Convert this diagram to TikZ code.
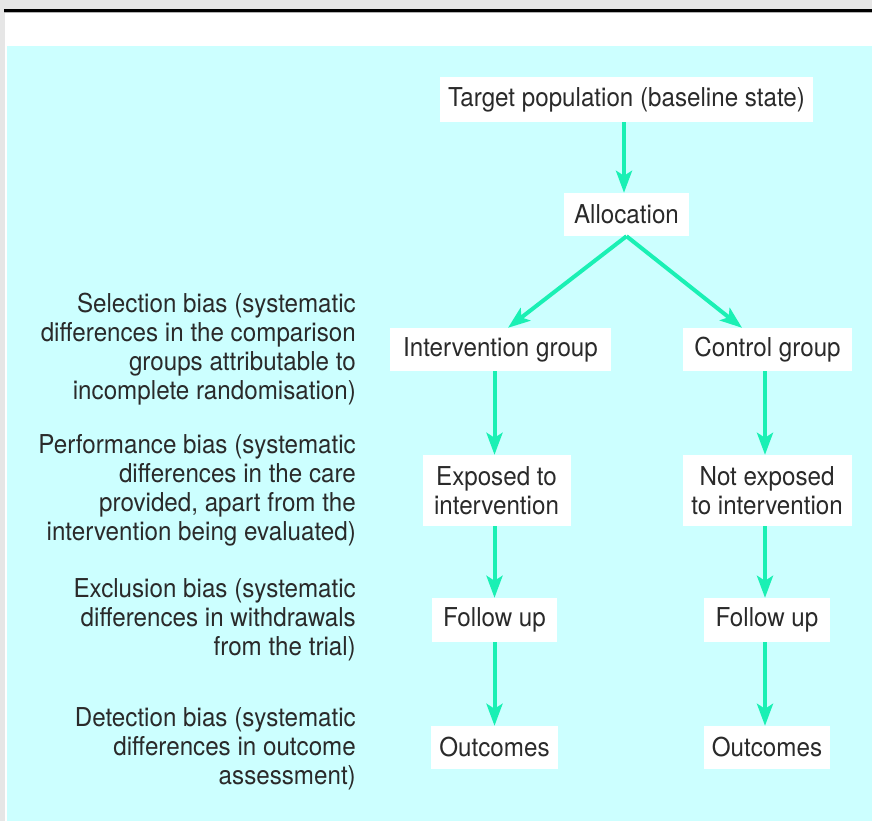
\documentclass[tikz,border=0pt]{standalone}
\usepackage{fontspec}
\setmainfont{TeX Gyre Heros}[FakeStretch=0.93]
\usetikzlibrary{arrows.meta,calc}
\definecolor{bgcyan}{HTML}{CCFFFF}
\definecolor{arrowgreen}{HTML}{1AF0B4}
\definecolor{pagegray}{HTML}{E6E6E6}
\definecolor{txt}{HTML}{2A2A2A}
\tikzset{
  box/.style={fill=white, text=txt, align=center, inner xsep=8pt, inner ysep=4pt,
    font=\fontsize{26}{29}\selectfont},
  note/.style={text=txt, align=right, anchor=east, inner sep=0pt,
    font=\fontsize{26}{29}\selectfont},
  flow/.style={draw=arrowgreen, line width=4pt,
    -{Stealth[length=22pt, width=16pt, inset=5pt]}}
}
\begin{document}
\begin{tikzpicture}[x=1pt,y=-1pt]
\useasboundingbox (0,0) rectangle (872,821);
% page background
\fill[pagegray] (0,0) rectangle (872,821);
\fill[black] (4,9) rectangle (872,12);
\fill[gray!60] (4,12) rectangle (872,13);
\fill[white] (5,13) rectangle (872,821);
\fill[bgcyan] (7,46) rectangle (872,821);

% flow nodes
\node[box, minimum width=373pt, minimum height=45pt] (tp) at (626.5,99.5) {Target population (baseline state)};
\node[box, minimum width=125pt, minimum height=43pt] (al) at (626.5,214.5) {Allocation};
\node[box, minimum width=221pt, minimum height=43pt] (ig) at (500.5,349.5) {Intervention group};
\node[box, minimum width=169pt, minimum height=43pt] (cg) at (767.5,349.5) {Control group};
\node[box, minimum width=148pt, minimum height=71pt] (ex) at (496.5,490.5) {Exposed to\\intervention};
\node[box, minimum width=169pt, minimum height=71pt] (nx) at (767,490.5) {Not exposed\\to intervention};
\node[box, minimum width=125pt, minimum height=44pt] (fl) at (494.5,620) {Follow up};
\node[box, minimum width=126pt, minimum height=44pt] (fr) at (767,620) {Follow up};
\node[box, minimum width=125pt, minimum height=43pt] (ol) at (494.5,747.5) {Outcomes};
\node[box, minimum width=126pt, minimum height=43pt] (or) at (767,747.5) {Outcomes};

% bias notes
\node[note] (sb) at (356,349) {Selection bias (systematic\\differences in the comparison\\groups attributable to\\incomplete randomisation)};
\node[note] (pb) at (356,490.5) {Performance bias (systematic\\differences in the care\\provided, apart from the\\intervention being evaluated)};
\node[note] (eb) at (356,620) {Exclusion bias (systematic\\differences in withdrawals\\from the trial)};
\node[note] (db) at (356,749) {Detection bias (systematic\\differences in outcome\\assessment)};

% connectors
\coordinate (igin) at ([xshift=7.5pt]ig.north);
\coordinate (cgin) at ([xshift=-25.5pt]cg.north);
\draw[flow] (tp.south -| 624,0) -- (al.north -| 624,0);
\draw[flow] (al.south) -- (igin);
\draw[flow] (al.south) -- (cgin);
\draw[flow] (ig.south -| fl) -- (ex.north -| fl);
\draw[flow] (cg.south -| 765,0) -- (nx.north -| 765,0);
\draw[flow] (ex.south -| fl) -- (fl.north);
\draw[flow] (nx.south -| 765,0) -- (fr.north -| 765,0);
\draw[flow] (fl.south) -- (ol.north);
\draw[flow] (fr.south -| 765,0) -- (or.north -| 765,0);
\end{tikzpicture}
\end{document}
